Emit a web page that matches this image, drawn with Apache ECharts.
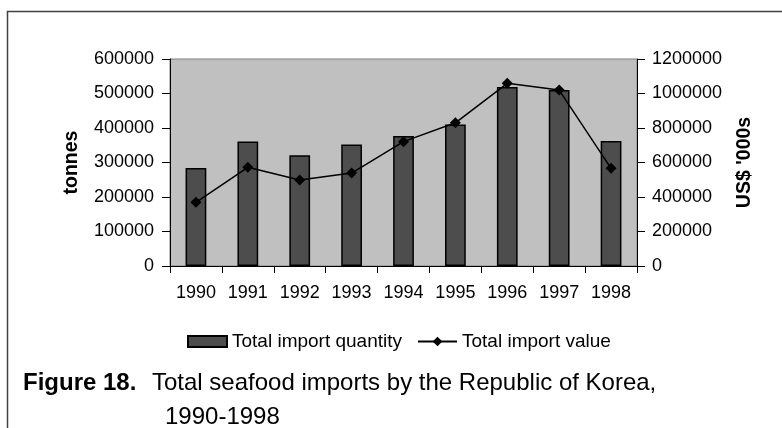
<!DOCTYPE html>
<html>
<head>
<meta charset="utf-8">
<script src="https://cdn.jsdelivr.net/npm/echarts@6/dist/echarts.min.js"></script>
<style>
  html, body { margin: 0; padding: 0; background: #fff; }
  #chart { width: 782px; height: 428px; }
</style>
</head>
<body>
<div id="chart"></div>
<script>
// data
var years = ['1990', '1991', '1992', '1993', '1994', '1995', '1996', '1997', '1998'];
var importQuantity = [284000, 361000, 321000, 352000, 377000, 410000, 519000, 510000, 362000];
var importValue = [369000, 572000, 498000, 539000, 721000, 830000, 1059000, 1020000, 566000];

var font = 'Liberation Sans, Arial, sans-serif';

// plain numbers, no thousand separators
function plain(v) {
    return String(v);
}

var chart = echarts.init(document.getElementById('chart'));
var option = {
    animation: false,
    textStyle: { fontFamily: font, color: '#000' },
    title: [{
        text: 'Figure 18.',
        left: 18, top: 366,
        textStyle: { fontFamily: font, fontSize: 24, fontWeight: 'bold', color: '#000' }
    }, {
        text: 'Total seafood imports by the Republic of Korea,',
        left: 147, top: 366,
        textStyle: { fontFamily: font, fontSize: 24, fontWeight: 'normal', color: '#000' }
    }, {
        text: '1990-1998',
        left: 160, top: 400,
        textStyle: { fontFamily: font, fontSize: 24, fontWeight: 'normal', color: '#000' }
    }],
    legend: [{
        data: [{ name: 'Total import quantity', icon: 'rect' }],
        left: 182, top: 327,
        itemWidth: 39, itemHeight: 11,
        textStyle: { fontFamily: font, fontSize: 19, color: '#000' }
    }, {
        data: ['Total import value'],
        left: 412, top: 327,
        itemWidth: 39, itemHeight: 12,
        textStyle: { fontFamily: font, fontSize: 19, color: '#000' }
    }],
    grid: {
        left: 170, right: 145, top: 59, bottom: 162,
        show: true, backgroundColor: '#c0c0c0', borderColor: '#808080', borderWidth: 1
    },
    xAxis: {
        type: 'category',
        data: years,
        boundaryGap: true,
        axisLine: { lineStyle: { color: '#000', width: 1 } },
        axisTick: { show: true, interval: 0, length: 7, lineStyle: { color: '#000' } },
        axisLabel: { interval: 0, margin: 18, fontSize: 18, color: '#000', fontFamily: font },
        splitLine: { show: false }
    },
    yAxis: [{
        type: 'value',
        min: 0, max: 600000, interval: 100000,
        name: 'tonnes',
        nameLocation: 'middle',
        nameGap: 88,
        nameTextStyle: { fontFamily: font, fontSize: 19.5, fontWeight: 'bold', color: '#000' },
        axisLine: { show: true, lineStyle: { color: '#000', width: 1 } },
        axisTick: { show: true, length: 8, lineStyle: { color: '#000' } },
        axisLabel: { fontSize: 18, color: '#000', margin: 16, fontFamily: font, formatter: plain },
        splitLine: { show: false }
    }, {
        type: 'value',
        min: 0, max: 1200000, interval: 200000,
        name: "US$ '000s",
        nameLocation: 'middle',
        nameGap: 98,
        nameRotate: 90,
        nameTextStyle: { fontFamily: font, fontSize: 19.5, fontWeight: 'bold', color: '#000' },
        axisLine: { show: true, lineStyle: { color: '#000', width: 1 } },
        axisTick: { show: true, length: 8, lineStyle: { color: '#000' } },
        axisLabel: { fontSize: 18, color: '#000', margin: 15, fontFamily: font, formatter: plain },
        splitLine: { show: false }
    }],
    series: [{
        name: 'Total import quantity',
        type: 'bar',
        yAxisIndex: 0,
        data: importQuantity,
        barWidth: '40%',
        itemStyle: { color: '#4d4d4d', borderColor: '#000', borderWidth: 1.5 }
    }, {
        name: 'Total import value',
        type: 'line',
        yAxisIndex: 1,
        data: importValue,
        symbol: 'diamond',
        symbolSize: 11,
        itemStyle: { color: '#000' },
        lineStyle: { color: '#000', width: 1.5 }
    }],
    graphic: [{
        type: 'rect',
        shape: { x: 7.5, y: 11.5, width: 800, height: 500 },
        style: { fill: 'none', stroke: '#404040', lineWidth: 1.5 },
        silent: true
    }]
};
chart.setOption(option);
</script>
</body>
</html>
